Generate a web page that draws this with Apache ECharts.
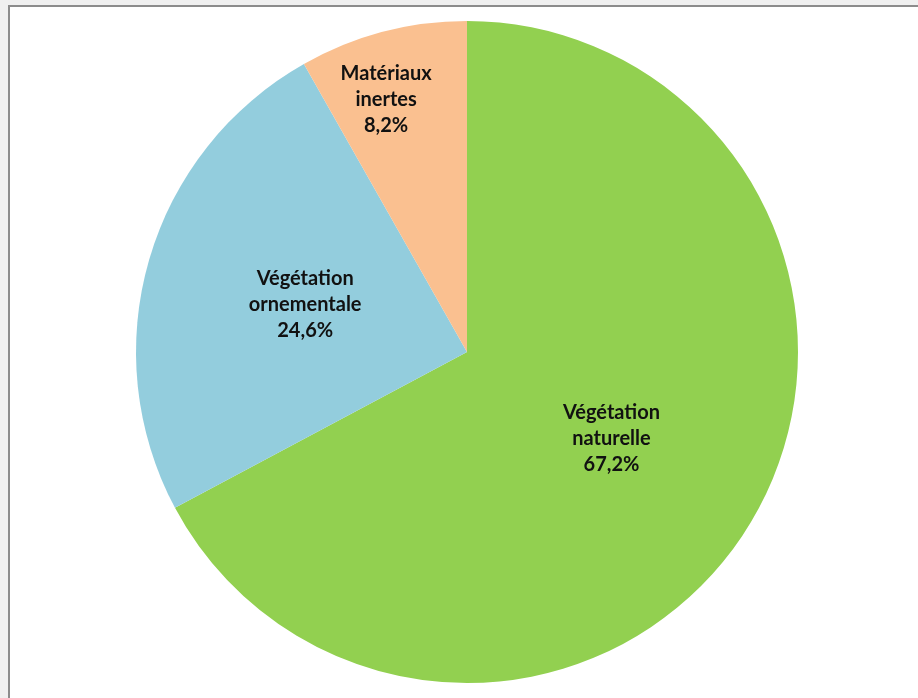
<!DOCTYPE html>
<html>
<head>
<meta charset="utf-8">
<script src="https://cdn.jsdelivr.net/npm/echarts@6/dist/echarts.min.js"></script>
<style>
  html, body { margin: 0; padding: 0; background: #f0f0f0; overflow: hidden; }
  .frame {
    position: absolute; left: 8px; top: 5px; width: 920px; height: 700px;
    background: #fff; border-left: 2px solid #8c8c8c; border-top: 2px solid #8c8c8c;
  }
  #chart { position: absolute; left: 0; top: 0; width: 918px; height: 698px; }
</style>
</head>
<body>
<div class="frame"></div>
<div id="chart"></div>
<script>
  // catégories et parts (%)
  const categories = ['Végétation naturelle', 'Végétation ornementale', 'Matériaux inertes'];
  const labelLines = [['Végétation', 'naturelle'], ['Végétation', 'ornementale'], ['Matériaux', 'inertes']];
  const shares = [67.2, 24.6, 8.2];
  const colors = ['#92d050', '#93cddd', '#fac090'];

  const chart = echarts.init(document.getElementById('chart'));

  const data = categories.map((name, i) => {
    let item = {
      name: name,
      value: shares[i],
      itemStyle: { color: colors[i] }
    };
    // petite part : étiquette poussée vers le bord
    if (i === 2) {
      item.label = { offset: [-38, -90] };
    }
    return item;
  });

  chart.setOption({
    animation: false,
    series: [
      {
        type: 'pie',
        center: [467, 352],
        radius: [0, 331],
        startAngle: 90,
        clockwise: true,
        itemStyle: { borderWidth: 0 },
        label: {
          show: true,
          position: 'inside',
          color: '#111',
          fontFamily: 'Lato',
          fontWeight: 'bold',
          fontSize: 20,
          lineHeight: 26,
          align: 'center',
          formatter: p => labelLines[p.dataIndex].join('\n') + '\n' + String(p.value.toFixed(1)).replace('.', ',') + '%'
        },
        labelLine: { show: false },
        emphasis: { disabled: true },
        data: data
      }
    ]
  });
</script>
</body>
</html>
